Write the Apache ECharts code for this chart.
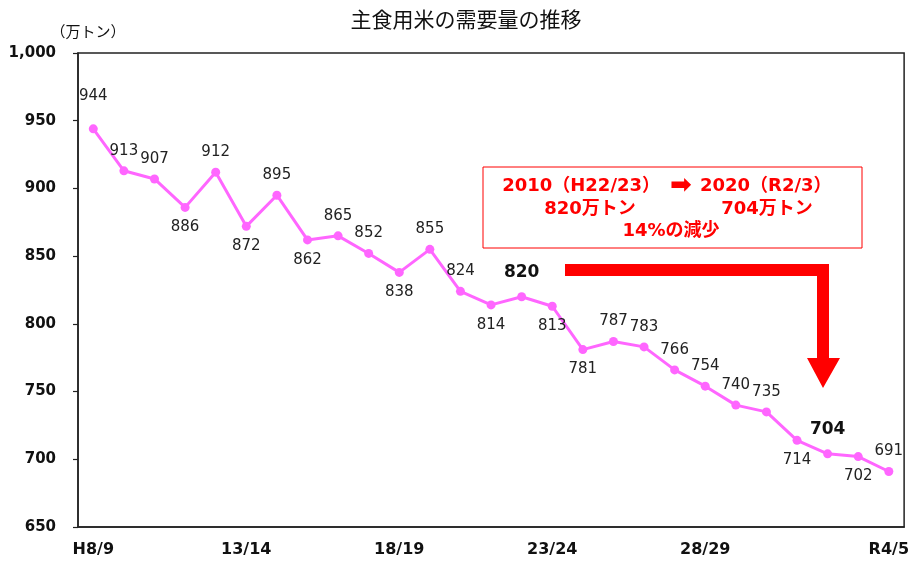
<!DOCTYPE html>
<html>
<head>
<meta charset="utf-8">
<script src="https://cdn.jsdelivr.net/npm/echarts@6/dist/echarts.min.js"></script>
<style>
  html, body { margin: 0; padding: 0; background: #fff; }
  #chart { width: 912px; height: 562px; }
</style>
</head>
<body>
<div id="chart"></div>
<script>
// 年度 (H8/9 .. R4/5)
const categories = [
  'H8/9', '9/10', '10/11', '11/12', '12/13', '13/14', '14/15', '15/16', '16/17',
  '17/18', '18/19', '19/20', '20/21', '21/22', '22/23', '23/24', '24/25', '25/26',
  '26/27', '27/28', '28/29', '29/30', '30/R1', 'R1/2', 'R2/3', 'R3/4', 'R4/5'
]
// 需要量 (万トン)
const demand = [
  944, 913, 907, 886, 912, 872, 895, 862, 865, 852, 838, 855, 824, 814,
  820, 813, 781, 787, 783, 766, 754, 740, 735, 714, 704, 702, 691
]
const shownLabels = ['H8/9', '13/14', '18/19', '23/24', '28/29', 'R4/5']
const yTicks = [650, 700, 750, 800, 850, 900, 950, 1000]
// which value labels sit under the point
const labelBelow = [3, 5, 7, 10, 13, 15, 16, 23, 25]
const highlighted = [14, 24]

const FONT = '"DejaVu Sans", "Noto Sans CJK JP", sans-serif'
const RED = '#ff0000'

const chart = echarts.init(document.getElementById('chart'))

const seriesData = demand.map((v, i) => {
  const below = labelBelow.indexOf(i) >= 0
  const item = {
    value: v,
    label: { position: below ? 'bottom' : 'top' }
  }
  if (highlighted.indexOf(i) >= 0) {
    item.label.fontSize = 17
    item.label.fontWeight = 'bold'
    item.label.color = '#111'
    item.label.distance = 11
  }
  if (i === 0) item.label.distance = 21
  return item
})

const boxText = (text, x, y, align, size) => ({
  type: 'text',
  x: x,
  y: y,
  style: {
    text: text,
    font: 'bold ' + (size || 18) + 'px ' + FONT,
    fill: RED,
    align: align || 'center',
    verticalAlign: 'middle'
  }
})

chart.setOption({
  animation: false,
  title: {
    text: '主食用米の需要量の推移',
    left: 461,
    top: 4,
    textAlign: 'center',
    textStyle: {
      fontFamily: '"Noto Sans CJK JP", sans-serif',
      fontSize: 21,
      fontWeight: 'normal',
      color: '#111'
    }
  },
  grid: {
    left: 78,
    right: 6,
    top: 53,
    bottom: 35,
    show: true,
    borderColor: '#222',
    borderWidth: 1.5
  },
  xAxis: {
    type: 'category',
    data: categories,
    boundaryGap: true,
    axisLine: { lineStyle: { color: '#222', width: 1.5 } },
    axisTick: {
      inside: true,
      length: 4,
      alignWithLabel: true,
      interval: 0,
      lineStyle: { color: '#222', width: 1.2 }
    },
    axisLabel: {
      interval: (idx, name) => shownLabels.indexOf(name) >= 0,
      margin: 15,
      fontFamily: FONT,
      fontSize: 16,
      fontWeight: 'bold',
      color: '#111'
    },
    splitLine: { show: false }
  },
  yAxis: {
    type: 'value',
    min: yTicks[0],
    max: yTicks[yTicks.length - 1],
    interval: 50,
    name: '（万トン）',
    nameLocation: 'end',
    nameGap: 14,
    nameTextStyle: {
      fontFamily: '"Noto Sans CJK JP", sans-serif',
      fontSize: 15,
      color: '#111',
      align: 'center',
      padding: [0, 0, 0, 20]
    },
    axisLine: { show: true, lineStyle: { color: '#222', width: 1.5 } },
    axisTick: { show: true, length: 5, lineStyle: { color: '#222', width: 1.2 } },
    axisLabel: {
      margin: 22,
      fontFamily: FONT,
      fontSize: 15,
      fontWeight: 'bold',
      color: '#111',
      formatter: v => v.toLocaleString('en-US')
    },
    splitLine: { show: false }
  },
  series: [
    {
      type: 'line',
      data: seriesData,
      symbol: 'circle',
      symbolSize: 9,
      lineStyle: { color: '#ff66ff', width: 3 },
      itemStyle: { color: '#ff66ff' },
      label: {
        show: true,
        distance: 8,
        fontFamily: FONT,
        fontSize: 15,
        color: '#222'
      }
    }
  ],
  graphic: [
    {
      type: 'rect',
      shape: { x: 483, y: 167, width: 379, height: 81 },
      style: { fill: '#fff', stroke: RED, lineWidth: 1 }
    },
    boxText('2010（H22/23）', 660, 186, 'right'),
    boxText('➡', 681, 186, 'center', 26),
    boxText('2020（R2/3）', 700, 186, 'left'),
    boxText('820万トン', 590, 209),
    boxText('704万トン', 767, 209),
    boxText('14%の減少', 671, 231),
    {
      type: 'polygon',
      shape: {
        points: [
          [565, 264], [829, 264], [829, 358], [840, 358], [823, 388],
          [807, 358], [817, 358], [817, 276], [565, 276]
        ]
      },
      style: { fill: RED }
    }
  ]
})
</script>
</body>
</html>
